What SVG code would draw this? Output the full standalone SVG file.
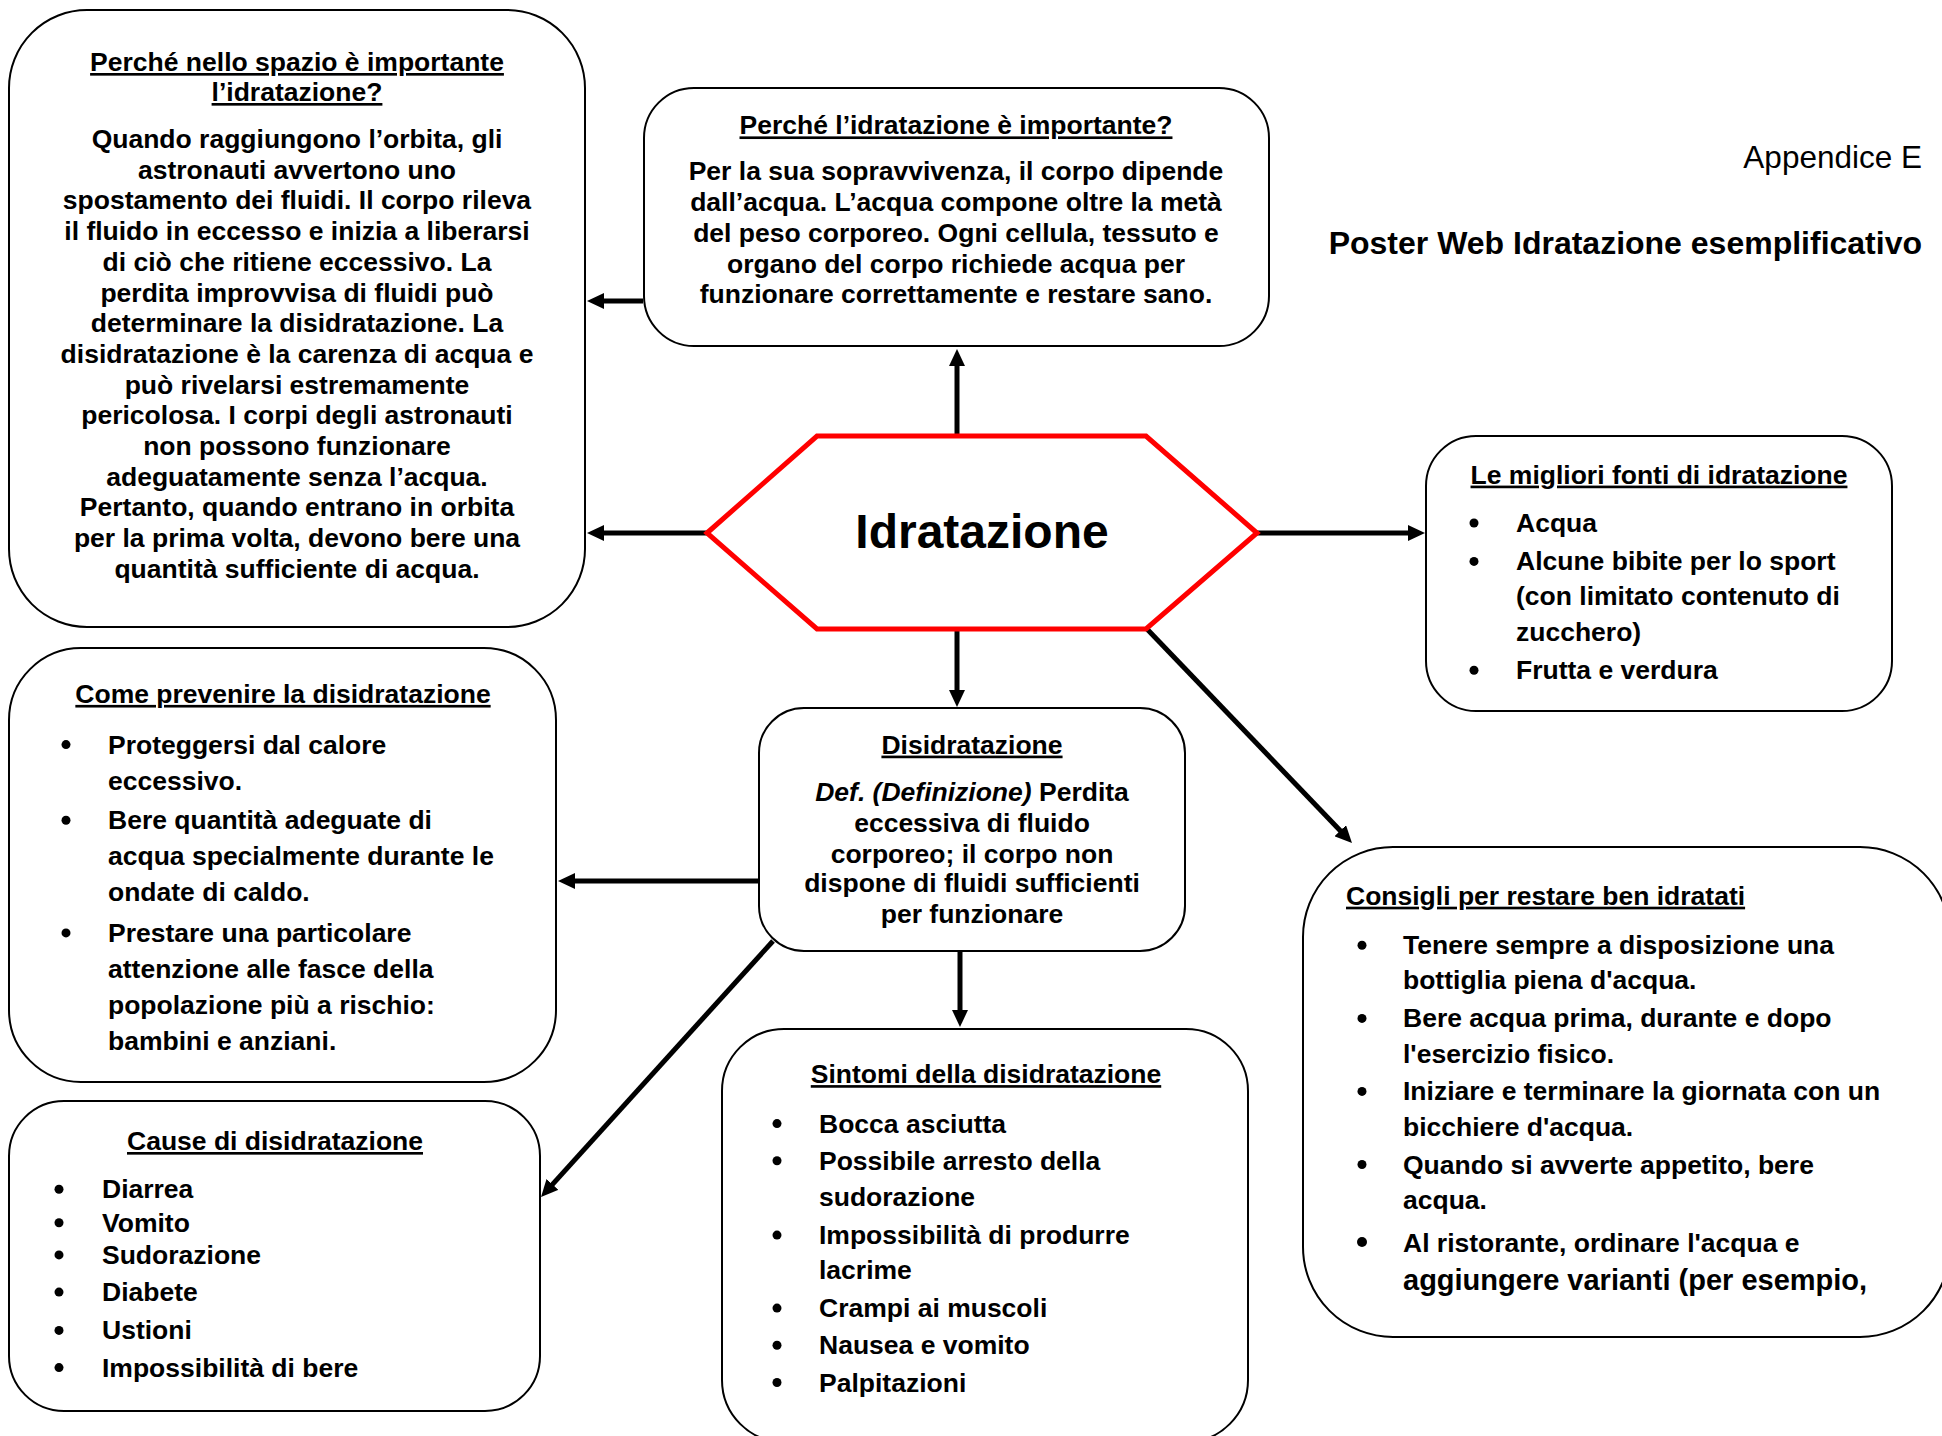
<svg xmlns="http://www.w3.org/2000/svg" width="1942" height="1436" viewBox="0 0 1942 1436">
<defs>
<style>
.box{fill:#fff;stroke:#000;stroke-width:2}
.hex{fill:#fff;stroke:#ff0000;stroke-width:5;stroke-linejoin:miter}
.t{font-family:"Liberation Sans",Arial,sans-serif;font-weight:bold;font-size:26.5px;fill:#000}
.c{text-anchor:middle}
.u{text-decoration:underline}
.b{fill:#000}
.conn line{stroke:#000;stroke-width:5;marker-end:url(#arr)}
</style>
<marker id="arr" markerUnits="userSpaceOnUse" markerWidth="17" markerHeight="16" viewBox="0 0 17 16" refX="5" refY="8" orient="auto">
<path d="M0,0 L17,8 L0,16 z" fill="#000"/>
</marker>
</defs>
<rect width="1942" height="1436" fill="#fff"/>

<g id="header">
<text x="1922" y="168" font-family="Liberation Sans, Arial, sans-serif" font-size="31.5" text-anchor="end" fill="#000">Appendice E</text>
<text x="1922" y="254" font-family="Liberation Sans, Arial, sans-serif" font-size="32" font-weight="bold" text-anchor="end" fill="#000">Poster Web Idratazione esemplificativo</text>
</g>

<g class="conn" id="connectors">
<line x1="957" y1="436" x2="957" y2="361"/>
<line x1="643" y1="301" x2="599" y2="301"/>
<line x1="707" y1="533" x2="599" y2="533"/>
<line x1="1257" y1="533" x2="1413" y2="533"/>
<line x1="957" y1="630" x2="957" y2="695"/>
<line x1="1147" y1="629" x2="1343.7" y2="834.3"/>
<line x1="759" y1="881" x2="570" y2="881"/>
<line x1="773" y1="941" x2="549.1" y2="1188.1"/>
<line x1="960" y1="951" x2="960" y2="1015"/>
</g>

<g id="node-space">
<rect class="box" x="9" y="10" width="576" height="617" rx="78" ry="78"/>
<text class="t c u" x="297" y="71">Perché nello spazio è importante</text>
<text class="t c u" x="297" y="101">l’idratazione?</text>
<text class="t c" x="297" y="148">Quando raggiungono l’orbita, gli</text>
<text class="t c" x="297" y="178.7">astronauti avvertono uno</text>
<text class="t c" x="297" y="209.4">spostamento dei fluidi. Il corpo rileva</text>
<text class="t c" x="297" y="240.1">il fluido in eccesso e inizia a liberarsi</text>
<text class="t c" x="297" y="270.8">di ciò che ritiene eccessivo. La</text>
<text class="t c" x="297" y="301.5">perdita improvvisa di fluidi può</text>
<text class="t c" x="297" y="332.2">determinare la disidratazione. La</text>
<text class="t c" x="297" y="362.9">disidratazione è la carenza di acqua e</text>
<text class="t c" x="297" y="393.6">può rivelarsi estremamente</text>
<text class="t c" x="297" y="424.3">pericolosa. I corpi degli astronauti</text>
<text class="t c" x="297" y="455">non possono funzionare</text>
<text class="t c" x="297" y="485.7">adeguatamente senza l’acqua.</text>
<text class="t c" x="297" y="516.4">Pertanto, quando entrano in orbita</text>
<text class="t c" x="297" y="547.1">per la prima volta, devono bere una</text>
<text class="t c" x="297" y="577.8">quantità sufficiente di acqua.</text>
</g>

<g id="node-why">
<rect class="box" x="644" y="88" width="625" height="258" rx="50" ry="50"/>
<text class="t c u" x="956" y="134.4">Perché l’idratazione è importante?</text>
<text class="t c" x="956" y="180.2">Per la sua sopravvivenza, il corpo dipende</text>
<text class="t c" x="956" y="211.2">dall’acqua. L’acqua compone oltre la metà</text>
<text class="t c" x="956" y="242.1">del peso corporeo. Ogni cellula, tessuto e</text>
<text class="t c" x="956" y="273.1">organo del corpo richiede acqua per</text>
<text class="t c" x="956" y="302.8">funzionare correttamente e restare sano.</text>
</g>

<g id="node-center">
<polygon class="hex" points="707,533 817,436 1146,436 1257,533 1146,629 817,629"/>
<text x="982" y="548" font-family="Liberation Sans, Arial, sans-serif" font-size="48" font-weight="bold" text-anchor="middle" fill="#000">Idratazione</text>
</g>

<g id="node-sources">
<rect class="box" x="1426" y="436" width="466" height="275" rx="50" ry="50"/>
<text class="t c u" x="1659" y="483.6">Le migliori fonti di idratazione</text>
<circle class="b" cx="1474" cy="523" r="4.5"/>
<text class="t" x="1516" y="531.9">Acqua</text>
<circle class="b" cx="1474" cy="561.4" r="4.5"/>
<text class="t" x="1516" y="570.4">Alcune bibite per lo sport</text>
<text class="t" x="1516" y="605">(con limitato contenuto di</text>
<text class="t" x="1516" y="641">zucchero)</text>
<circle class="b" cx="1474" cy="670.3" r="4.5"/>
<text class="t" x="1516" y="679.3">Frutta e verdura</text>
</g>

<g id="node-tips">
<rect class="box" x="1303" y="847" width="647" height="490" rx="90" ry="90"/>
<text class="t u" x="1346" y="904.7">Consigli per restare ben idratati</text>
<circle class="b" cx="1362" cy="945.3" r="4.5"/>
<text class="t" x="1403" y="954.3">Tenere sempre a disposizione una</text>
<text class="t" x="1403" y="989">bottiglia piena d'acqua.</text>
<circle class="b" cx="1362" cy="1018.4" r="4.5"/>
<text class="t" x="1403" y="1027.4">Bere acqua prima, durante e dopo</text>
<text class="t" x="1403" y="1063.3">l'esercizio fisico.</text>
<circle class="b" cx="1362" cy="1091.4" r="4.5"/>
<text class="t" x="1403" y="1100.4">Iniziare e terminare la giornata con un</text>
<text class="t" x="1403" y="1136.3">bicchiere d'acqua.</text>
<circle class="b" cx="1362" cy="1164.5" r="4.5"/>
<text class="t" x="1403" y="1173.5">Quando si avverte appetito, bere</text>
<text class="t" x="1403" y="1209.4">acqua.</text>
<circle class="b" cx="1362" cy="1242" r="5"/>
<text class="t" x="1403" y="1251.5">Al ristorante, ordinare l'acqua e</text>
<text class="t" x="1403" y="1289.5" style="font-size:29px">aggiungere varianti (per esempio,</text>
</g>

<g id="node-prevent">
<rect class="box" x="9" y="648" width="547" height="434" rx="72" ry="72"/>
<text class="t c u" x="283" y="702.9">Come prevenire la disidratazione</text>
<circle class="b" cx="66" cy="744.6" r="4.5"/>
<text class="t" x="108" y="753.6">Proteggersi dal calore</text>
<text class="t" x="108" y="789.6">eccessivo.</text>
<circle class="b" cx="66" cy="820.2" r="4.5"/>
<text class="t" x="108" y="829.2">Bere quantità adeguate di</text>
<text class="t" x="108" y="865.1">acqua specialmente durante le</text>
<text class="t" x="108" y="901">ondate di caldo.</text>
<circle class="b" cx="66" cy="932.9" r="4.5"/>
<text class="t" x="108" y="941.9">Prestare una particolare</text>
<text class="t" x="108" y="977.8">attenzione alle fasce della</text>
<text class="t" x="108" y="1013.7">popolazione più a rischio:</text>
<text class="t" x="108" y="1049.6">bambini e anziani.</text>
</g>

<g id="node-dehydration">
<rect class="box" x="759" y="708" width="426" height="243" rx="45" ry="45"/>
<text class="t c u" x="972" y="753.6">Disidratazione</text>
<text class="t c" x="972" y="800.7"><tspan font-style="italic">Def. (Definizione)</tspan> Perdita</text>
<text class="t c" x="972" y="831.7">eccessiva di fluido</text>
<text class="t c" x="972" y="862.6">corporeo; il corpo non</text>
<text class="t c" x="972" y="892.4">dispone di fluidi sufficienti</text>
<text class="t c" x="972" y="923.3">per funzionare</text>
</g>

<g id="node-symptoms">
<rect class="box" x="722" y="1029" width="526" height="413" rx="62" ry="62"/>
<text class="t c u" x="986" y="1083.1">Sintomi della disidratazione</text>
<circle class="b" cx="777" cy="1123.6" r="4.5"/>
<text class="t" x="819" y="1132.6">Bocca asciutta</text>
<circle class="b" cx="777" cy="1160.8" r="4.5"/>
<text class="t" x="819" y="1169.8">Possibile arresto della</text>
<text class="t" x="819" y="1205.7">sudorazione</text>
<circle class="b" cx="777" cy="1235.1" r="4.5"/>
<text class="t" x="819" y="1244.1">Impossibilità di produrre</text>
<text class="t" x="819" y="1278.8">lacrime</text>
<circle class="b" cx="777" cy="1308.1" r="4.5"/>
<text class="t" x="819" y="1317.1">Crampi ai muscoli</text>
<circle class="b" cx="777" cy="1345.3" r="4.5"/>
<text class="t" x="819" y="1354.3">Nausea e vomito</text>
<circle class="b" cx="777" cy="1382.5" r="4.5"/>
<text class="t" x="819" y="1391.5">Palpitazioni</text>
</g>

<g id="node-causes">
<rect class="box" x="9" y="1101" width="531" height="310" rx="55" ry="55"/>
<text class="t c u" x="275" y="1150">Cause di disidratazione</text>
<circle class="b" cx="59" cy="1189.3" r="4.5"/>
<text class="t" x="102" y="1198.3">Diarrea</text>
<circle class="b" cx="59" cy="1222.7" r="4.5"/>
<text class="t" x="102" y="1231.7">Vomito</text>
<circle class="b" cx="59" cy="1254.9" r="4.5"/>
<text class="t" x="102" y="1263.9">Sudorazione</text>
<circle class="b" cx="59" cy="1292.1" r="4.5"/>
<text class="t" x="102" y="1301.1">Diabete</text>
<circle class="b" cx="59" cy="1330.4" r="4.5"/>
<text class="t" x="102" y="1339.4">Ustioni</text>
<circle class="b" cx="59" cy="1367.6" r="4.5"/>
<text class="t" x="102" y="1376.6">Impossibilità di bere</text>
</g>
</svg>
